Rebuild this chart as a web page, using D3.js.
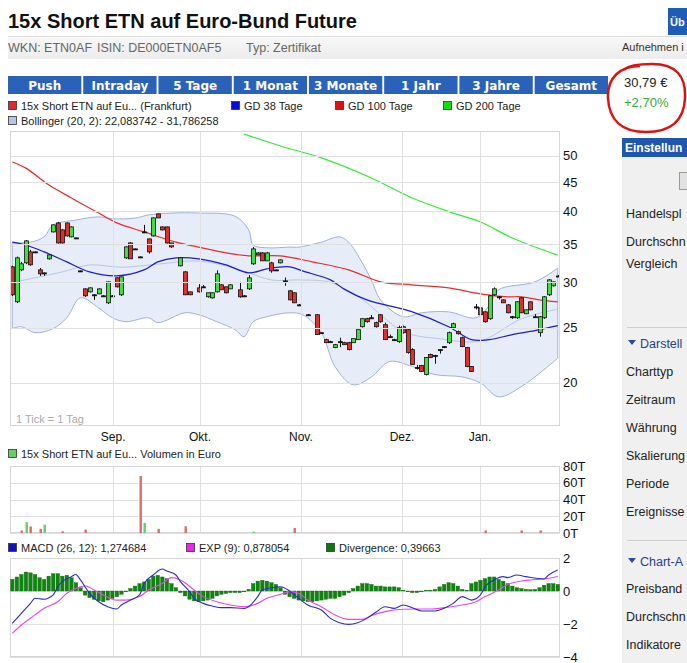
<!DOCTYPE html>
<html>
<head>
<meta charset="utf-8">
<script src="https://cdn.jsdelivr.net/npm/d3@7"></script>
<style>
  body { margin: 0; background: #fff; }
  svg { display: block; font-family: Arial, "Liberation Sans", sans-serif; }
</style>
</head>
<body>
<svg id="page" width="687" height="663"></svg>
<script>
// ---- data ----
// candles: [day, open, high, low, close]
const candles = [
  [0, 31.95, 32.1, 28.4, 28.54], [1, 27.74, 33.3, 27.6, 33.13], [2, 31.56, 32.6, 31.4, 32.34],
  [3, 32.47, 35.6, 32.3, 35.48], [4, 33.94, 34.22, 32.1, 32.21], [5, 33.94, 34.0, 33.9, 33.94],
  [6, 31.56, 31.8, 30.8, 31.06], [7, 31.18, 31.2, 30.8, 31.18], [8, 33.0, 33.6, 32.9, 33.53],
  [9, 36.79, 37.9, 36.7, 37.85], [10, 38.15, 38.3, 35.1, 35.19], [11, 37.09, 37.2, 35.1, 35.19],
  [12, 38.15, 38.2, 36.1, 36.2], [13, 36.06, 37.6, 36.0, 37.54], [14, 35.91, 35.95, 35.85, 35.91],
  [15, 31.43, 31.5, 31.4, 31.43], [16, 29.23, 29.3, 28.3, 28.42], [17, 28.88, 29.4, 28.8, 29.35],
  [18, 28.54, 28.6, 27.96, 28.54], [19, 28.65, 29.3, 28.6, 29.23], [20, 28.42, 28.5, 28.4, 28.42],
  [21, 27.63, 30.1, 27.5, 30.07], [22, 28.42, 28.5, 28.4, 28.42], [23, 30.56, 30.6, 29.4, 29.47],
  [24, 28.54, 30.7, 28.4, 30.68], [25, 33.13, 34.7, 33.0, 34.63], [26, 35.19, 35.3, 33.0, 33.0],
  [27, 34.35, 34.4, 34.3, 34.35], [28, 33.26, 33.3, 33.2, 33.26], [29, 36.79, 37.85, 36.7, 36.79],
  [30, 35.77, 35.8, 33.7, 33.94], [31, 36.2, 39.0, 36.1, 38.93], [32, 39.57, 39.6, 38.9, 38.93],
  [33, 37.54, 37.6, 37.0, 37.09], [34, 37.54, 37.6, 35.1, 35.19], [35, 35.19, 35.2, 34.5, 34.63],
  [37, 32.08, 33.2, 32.0, 33.13], [38, 31.31, 31.4, 28.5, 28.54], [39, 28.88, 28.9, 28.5, 28.54],
  [41, 29.35, 29.8, 28.8, 28.88], [42, 29.47, 29.7, 29.4, 29.47], [43, 28.31, 28.8, 28.2, 28.77],
  [44, 28.19, 28.8, 28.1, 28.77], [45, 28.88, 31.5, 28.8, 31.06], [46, 29.71, 29.8, 29.1, 29.12],
  [47, 29.47, 29.5, 28.7, 28.77], [48, 29.23, 29.8, 29.2, 29.71], [50, 29.12, 30.07, 28.2, 28.31],
  [51, 28.42, 28.5, 28.4, 28.42], [52, 29.23, 30.9, 29.1, 30.56], [53, 32.34, 34.6, 32.2, 34.35],
  [54, 33.8, 33.9, 33.5, 33.53], [55, 33.8, 33.9, 32.7, 32.73], [56, 32.73, 33.9, 32.7, 33.8],
  [57, 32.47, 32.6, 31.2, 31.43], [58, 31.56, 31.6, 31.5, 31.56], [59, 32.47, 32.9, 32.4, 32.86],
  [60, 30.19, 30.6, 29.6, 30.19], [61, 29.0, 29.1, 27.9, 27.96], [62, 28.77, 28.8, 27.6, 27.63],
  [63, 27.4, 27.5, 27.3, 27.4], [65, 26.33, 26.4, 26.3, 26.33], [67, 26.33, 26.4, 24.3, 24.3],
  [68, 24.49, 24.5, 24.4, 24.49], [69, 23.81, 23.9, 23.5, 23.52], [70, 23.62, 23.7, 23.5, 23.62],
  [71, 23.06, 23.4, 23.0, 23.33], [72, 23.62, 24.0, 23.1, 23.62], [73, 23.52, 23.6, 23.3, 23.33],
  [74, 23.52, 23.6, 22.8, 22.87], [75, 23.52, 23.9, 23.5, 23.91], [76, 23.81, 24.8, 23.8, 24.79],
  [77, 25.09, 25.95, 25.0, 25.91], [78, 25.91, 26.0, 25.5, 25.6], [79, 26.01, 26.3, 25.9, 26.01],
  [80, 25.5, 25.6, 25.0, 25.09], [81, 26.33, 26.4, 25.5, 25.6], [82, 25.29, 25.5, 23.8, 23.81],
  [83, 24.1, 24.3, 24.0, 24.1], [84, 23.81, 23.9, 23.7, 23.81], [85, 23.62, 25.2, 23.5, 24.99],
  [86, 25.09, 25.2, 24.4, 24.49], [87, 24.79, 24.9, 22.5, 22.6], [88, 22.87, 23.0, 21.5, 21.53],
  [89, 21.28, 21.5, 21.1, 21.28], [90, 21.45, 21.5, 20.9, 20.93], [91, 20.68, 22.2, 20.6, 22.15],
  [92, 22.42, 22.5, 22.1, 22.15], [93, 22.33, 22.4, 21.6, 22.33], [94, 22.87, 22.9, 22.5, 22.87],
  [95, 23.15, 23.2, 23.0, 23.15], [96, 23.52, 24.6, 23.4, 24.49], [97, 24.99, 25.5, 24.9, 25.39],
  [98, 24.59, 24.7, 24.3, 24.39], [99, 24.0, 24.1, 23.1, 23.15], [100, 23.06, 23.1, 21.3, 21.36],
  [101, 21.36, 21.4, 20.9, 20.93], [102, 27.18, 27.5, 26.9, 27.18], [103, 27.07, 27.2, 26.3, 26.33],
  [104, 26.64, 26.7, 25.5, 25.6], [105, 25.91, 28.5, 25.8, 28.42], [106, 28.54, 29.4, 28.4, 29.23],
  [107, 28.31, 28.4, 28.0, 28.31], [108, 27.96, 28.0, 27.6, 27.63], [109, 27.4, 27.5, 26.5, 26.54],
  [110, 26.12, 26.2, 25.9, 26.12], [111, 26.01, 27.8, 25.9, 27.74], [112, 28.19, 28.3, 26.5, 26.54],
  [113, 26.43, 26.9, 26.4, 26.86], [114, 27.74, 27.8, 26.8, 26.86], [115, 26.12, 26.4, 26.0, 26.12],
  [116, 24.49, 26.2, 24.1, 26.12], [117, 26.01, 28.4, 25.9, 28.31], [118, 28.54, 30.4, 28.4, 30.31],
  [119, 29.59, 30.1, 29.5, 30.07], [120, 30.79, 30.9, 30.7, 30.79]
];

// moving averages / bollinger: [day, value]
const gd38 = [[0, 35.3], [3, 34.9], [7, 33.94], [12, 32.6], [17, 31.31], [23, 30.81], [29, 31.56], [32, 32.6],
  [36, 33.13], [41, 33.0], [47, 32.21], [52, 31.18], [56, 31.69], [61, 31.95], [64, 31.4], [70, 30.31],
  [73, 29.2], [78, 27.96], [88, 26.64], [96, 25.09], [101, 23.81], [105, 23.81], [110, 24.3], [115, 24.69], [120, 25.19]];
const gd100 = [[0, 48.8], [3, 47.6], [8, 44.5], [13, 42.2], [19, 39.7], [23, 38.15], [29, 36.8], [36, 35.3],
  [41, 34.6], [47, 33.8], [52, 33.4], [59, 33.4], [66, 32.6], [74, 31.56], [81, 30.07], [88, 29.71],
  [96, 29.35], [103, 28.65], [109, 28.31], [112, 28.31], [116, 27.96], [120, 27.74]];
const gd200 = [[51, 54.6], [59, 52.06], [68, 49.6], [79, 45.75], [88, 42.2], [97, 39.7], [103, 38.3],
  [110, 35.9], [120, 33.5]];
const bollUpper = [[0, 35.2], [4, 35.3], [7, 36.06], [9, 37.85], [14, 38.6], [19, 39.1], [22, 38.8], [27, 38.9],
  [30, 39.4], [35, 39.7], [41, 39.7], [49, 39.2], [52, 37.1], [53, 34.9], [56, 34.5], [61, 34.6], [63, 34.6],
  [68, 35.3], [72, 36.06], [74, 35.3], [77, 32.47], [79, 30.31], [81, 27.96], [86, 26.12], [90, 26.54],
  [96, 26.64], [102, 26.01], [105, 27.4], [107, 29.12], [115, 30.07], [120, 31.79]];
const bollMid = [[0, 30.0], [11, 31.3], [17, 32.2], [24, 31.9], [32, 32.3], [41, 32.7], [50, 31.6], [57, 30.3],
  [63, 30.3], [70, 30.0], [77, 28.0], [86, 24.6], [94, 23.9], [103, 23.7], [112, 25.9], [120, 26.93]];
const bollLower = [[0, 24.9], [2, 25.09], [5, 24.49], [9, 24.9], [12, 26.01], [15, 28.19], [19, 27.07], [22, 26.01],
  [25, 25.6], [30, 26.01], [32, 25.5], [38, 26.54], [41, 26.33], [45, 25.6], [49, 24.79], [51, 24.1], [53, 25.6],
  [56, 26.12], [61, 26.54], [64, 26.3], [68, 24.49], [71, 21.36], [75, 19.84], [79, 20.48], [83, 21.8],
  [88, 21.36], [93, 20.68], [99, 20.48], [103, 19.99], [107, 18.9], [112, 19.7], [117, 21.1], [120, 22.08]];

// volume: [day, euro, rising?]
const volumes = [[2, 3000, false], [3, 13000, true], [4, 7700, false], [6, 5000, false], [7, 10000, true],
  [11, 2000, false], [16, 4000, false], [28, 68000, false], [29, 12000, true], [32, 5000, false],
  [38, 8000, false], [53, 1500, true], [62, 6000, false], [104, 3000, false], [112, 3000, false], [116, 3000, false]];

// MACD panel
const macdLine = [[0, -1.96], [2, -1.35], [4, -0.75], [5, -0.44], [7, -0.5], [9, -0.24], [10, 0.26], [11, 0.57],
  [13, 0.87], [14, 1.0], [15, 0.67], [17, -0.14], [19, -0.65], [21, -0.95], [23, -1.09], [24, -0.85], [26, -0.55],
  [28, -0.24], [29, 0.46], [31, 0.97], [33, 1.33], [34, 1.21], [36, 0.97], [37, 0.57], [39, -0.04], [40, -0.44],
  [42, -0.75], [44, -0.91], [46, -1.01], [48, -1.01], [51, -1.05], [52, -0.95], [54, -0.34], [55, 0.06], [57, 0.2],
  [59, 0.26], [61, 0.0], [63, -0.44], [65, -0.85], [68, -1.15], [70, -1.66], [72, -1.92], [74, -2.02], [76, -1.92],
  [78, -1.66], [80, -1.29], [82, -0.95], [84, -1.05], [86, -0.85], [88, -1.01], [90, -1.21], [93, -1.21],
  [95, -1.05], [97, -0.75], [99, -0.34], [101, -0.55], [103, -0.24], [104, 0.26], [106, 0.67], [108, 0.87],
  [109, 0.81], [111, 0.97], [113, 0.87], [117, 0.73], [118, 0.97], [120, 1.27]];
const expLine = [[0, -2.57], [2, -2.06], [5, -1.45], [7, -1.05], [10, -0.65], [12, -0.14], [15, 0.26], [16, 0.32],
  [18, 0.06], [20, -0.24], [23, -0.55], [25, -0.55], [28, -0.34], [30, 0.06], [33, 0.46], [35, 0.81], [37, 0.67],
  [40, 0.06], [42, -0.34], [45, -0.65], [48, -0.85], [51, -0.95], [54, -0.75], [56, -0.44], [59, -0.2], [61, -0.04],
  [63, -0.14], [65, -0.55], [68, -0.95], [71, -1.45], [74, -1.72], [77, -1.72], [79, -1.49], [82, -1.25],
  [86, -1.11], [89, -1.09], [92, -1.09], [95, -1.01], [99, -0.85], [102, -0.65], [104, -0.34], [107, 0.06],
  [109, 0.4], [112, 0.61], [114, 0.67], [117, 0.73], [119, 0.82], [120, 0.88]];
const divergence = [
  0.7, 0.85, 1.0, 1.15, 1.1, 1.0, 0.8, 0.7, 0.9, 1.05,
  1.05, 0.9, 0.95, 0.8, 0.5, 0.2, -0.25, -0.4, -0.5, -0.6,
  -0.65, -0.55, -0.45, -0.35, -0.2, -0.05, 0.15, 0.3, 0.45, 0.55,
  0.7, 0.9, 0.95, 0.85, 0.75, 0.45, 0.2, -0.1, -0.3, -0.5,
  -0.6, -0.65, -0.6, -0.55, -0.45, -0.3, -0.2, -0.15, -0.1, -0.1,
  -0.1, -0.05, 0.1, 0.45, 0.6, 0.65, 0.6, 0.5, 0.4, 0.2,
  -0.2, -0.35, -0.45, -0.55, -0.6, -0.65, -0.65, -0.6, -0.55, -0.5,
  -0.45, -0.45, -0.35, -0.25, -0.1, 0.15, 0.3, 0.45, 0.45, 0.4,
  0.3, 0.3, 0.25, 0.25, 0.25, 0.2, 0.05, -0.05, -0.1, -0.1,
  -0.05, 0.05, 0.05, 0.1, 0.25, 0.4, 0.5, 0.45, 0.3, 0.1,
  0.05, 0.45, 0.55, 0.65, 0.75, 0.85, 0.85, 0.7, 0.6, 0.45,
  0.3, 0.2, 0.15, 0.1, 0.08, 0.1, 0.2, 0.35, 0.45, 0.45, 0.4];

// ticks and labels
const dayCount = 121;
const priceTicks = [20, 25, 30, 35, 40, 45, 50];
const monthTicks = [["Sep.", 22.7], ["Okt.", 41.8], ["Nov.", 64.0], ["Dez.", 86.25], ["Jan.", 103.4]];
const volumeTicks = [0, 20000, 40000, 60000, 80000];
const macdTicks = [2, 0, -2, -4];
const buttons = ["Push", "Intraday", "5 Tage", "1 Monat", "3 Monate", "1 Jahr", "3 Jahre", "Gesamt"];
// side panel labels, as far as they show before the window edge
const settingsItems = ["Handelspl", "Durchschn", "Vergleich"];
const displayItems = ["Charttyp", "Zeitraum", "Währung", "Skalierung", "Periode", "Ereignisse"];
const analysisItems = ["Preisband", "Durchschn", "Indikatore"];

const svg = d3.select("#page");
const defs = svg.append("defs");

// ---- page header ----
svg.append("text").attr("x", 8).attr("y", 28)
  .attr("font-size", 20).attr("font-weight", "bold").attr("fill", "#111")
  .text("15x Short ETN auf Euro-Bund Future");
svg.append("rect").attr("x", 668).attr("y", 8).attr("width", 19).attr("height", 27).attr("fill", "#1f5cb8");
svg.append("text").attr("x", 670).attr("y", 26).attr("font-size", 11).attr("font-weight", "bold")
  .attr("fill", "#fff").text("Üb");

const subGrad = defs.append("linearGradient").attr("id", "subGrad").attr("x1", 0).attr("x2", 0).attr("y1", 0).attr("y2", 1);
subGrad.append("stop").attr("offset", "0%").attr("stop-color", "#f8f8f8");
subGrad.append("stop").attr("offset", "100%").attr("stop-color", "#ececec");
svg.append("rect").attr("x", 8).attr("y", 37).attr("width", 679).attr("height", 22).attr("fill", "url(#subGrad)");
svg.append("line").attr("x1", 8).attr("x2", 687).attr("y1", 36.5).attr("y2", 36.5).attr("stroke", "#dedede");

const sub = svg.append("g").attr("font-size", 12.5).attr("fill", "#666");
sub.append("text").attr("x", 8).attr("y", 52).text("WKN: ETN0AF");
sub.append("text").attr("x", 97).attr("y", 52).text("ISIN: DE000ETN0AF5");
sub.append("text").attr("x", 246).attr("y", 52).text("Typ: Zertifikat");
svg.append("text").attr("x", 622).attr("y", 51).attr("font-size", 11).attr("fill", "#333").text("Aufnehmen i");

// ---- period buttons ----
const btnScale = d3.scaleBand().domain(buttons).range([8, 608]).paddingInner(0.025);
const btn = svg.append("g").selectAll("g").data(buttons).join("g");
btn.append("rect").attr("x", d => btnScale(d)).attr("y", 76).attr("width", btnScale.bandwidth())
  .attr("height", 18).attr("fill", "#2a62ba");
btn.append("text").attr("x", d => btnScale(d) + btnScale.bandwidth() / 2).attr("y", 89.5)
  .attr("text-anchor", "middle").attr("font-size", 12).attr("font-weight", "bold")
  .attr("font-family", "Verdana, 'DejaVu Sans', sans-serif").attr("fill", "#fff").text(d => d);

// ---- price box with red marker circle ----
svg.append("text").attr("x", 624).attr("y", 87).attr("font-size", 13).attr("fill", "#222").text("30,79 €");
svg.append("text").attr("x", 624).attr("y", 107).attr("font-size", 13).attr("fill", "#3aaa3a").text("+2,70%");
svg.append("path")
  .attr("d", "M640,66 C620,66 607,78 608,98 C609,120 622,132 646,132 C670,132 684,122 685,98 C686,76 676,64 652,64 C640,64 628,66 624,70")
  .attr("fill", "none").attr("stroke", "#e01010").attr("stroke-width", 2.5);

// ---- right settings panel ----
svg.append("rect").attr("x", 622).attr("y", 138).attr("width", 65).attr("height", 525).attr("fill", "#f0f0f0");
svg.append("rect").attr("x", 622).attr("y", 138).attr("width", 65).attr("height", 19).attr("fill", "#1e56b0");
svg.append("text").attr("x", 625).attr("y", 152).attr("font-size", 12).attr("font-weight", "bold")
  .attr("fill", "#fff").text("Einstellun");
svg.append("rect").attr("x", 679.5).attr("y", 172.5).attr("width", 14).attr("height", 17)
  .attr("fill", "#e2e2e2").attr("stroke", "#9a9a9a");
const side = svg.append("g").attr("font-size", 12.5).attr("fill", "#222");
settingsItems.forEach((t, i) => side.append("text").attr("x", 626).attr("y", [218, 246, 268][i]).text(t));
[327.5, 540.5].forEach(y => svg.append("line").attr("x1", 627).attr("x2", 687).attr("y1", y).attr("y2", y).attr("stroke", "#cfcfcf"));
[["Darstell", 343], ["Chart-A", 561]].forEach(([t, y]) => {
  svg.append("path").attr("d", `M628,${y - 3}L636,${y - 3}L632,${y + 2}Z`).attr("fill", "#2a4a9a");
  svg.append("text").attr("x", 640).attr("y", y + 4.5).attr("font-size", 12.5).attr("fill", "#27408b").text(t);
});
displayItems.forEach((t, i) => side.append("text").attr("x", 626).attr("y", 376 + i * 28).text(t));
analysisItems.forEach((t, i) => side.append("text").attr("x", 626).attr("y", 593 + i * 28).text(t));

// ---- legends ----
function legendItem(x, y, color, label) {
  svg.append("rect").attr("x", x + 0.5).attr("y", y - 8.5).attr("width", 8).attr("height", 8)
    .attr("fill", color).attr("stroke", "#333").attr("stroke-width", 0.8);
  svg.append("text").attr("x", x + 13).attr("y", y).attr("font-size", 11).attr("fill", "#222").text(label);
}
legendItem(8, 110, "#e02a2a", "15x Short ETN auf Eu... (Frankfurt)");
legendItem(231, 110, "#0a0adf", "GD 38 Tage");
legendItem(335, 110, "#e01010", "GD 100 Tage");
legendItem(443, 110, "#11dd11", "GD 200 Tage");
legendItem(8, 125, "#b4c4e4", "Bollinger (20, 2): 22,083742 - 31,786258");
legendItem(8, 458, "#66cc66", "15x Short ETN auf Eu... Volumen in Euro");
legendItem(8, 552, "#1010c8", "MACD (26, 12): 1,274684");
legendItem(186, 552, "#ee22ee", "EXP (9): 0,878054");
legendItem(326, 552, "#0a7a0a", "Divergence: 0,39663");

// ---- shared x scale (trading days) ----
const x = d3.scaleLinear().domain([0, dayCount]).range([10, 560]);
const cx = d => x(d + 0.5);

function panelFrame(top, bottom, yScale, ticks, fmt) {
  const g = svg.append("g");
  g.selectAll(".hg").data(ticks).join("line")
    .attr("x1", 10).attr("x2", 560)
    .attr("y1", d => Math.round(yScale(d)) + 0.5).attr("y2", d => Math.round(yScale(d)) + 0.5)
    .attr("stroke", "#e0e0e0");
  g.selectAll(".vg").data(monthTicks).join("line")
    .attr("x1", d => Math.round(x(d[1])) + 0.5).attr("x2", d => Math.round(x(d[1])) + 0.5)
    .attr("y1", top).attr("y2", bottom).attr("stroke", "#e0e0e0");
  g.append("rect").attr("x", 10.5).attr("y", top + 0.5).attr("width", 549).attr("height", bottom - top - 1)
    .attr("fill", "none").attr("stroke", "#d6d6d6");
  svg.append("g").selectAll("text").data(ticks).join("text")
    .attr("x", 563).attr("y", d => yScale(d) + 4.5).attr("font-size", 13).attr("fill", "#111").text(fmt);
  return g;
}

// ---- main price panel ----
const y = d3.scaleLog().domain([16.8, 55.3]).range([426, 131]);
defs.append("clipPath").attr("id", "mainClip").append("rect").attr("x", 10).attr("y", 131).attr("width", 550).attr("height", 295);
const main = svg.append("g").attr("clip-path", "url(#mainClip)");

const smooth = d3.line().x(d => cx(d[0])).y(d => y(d[1])).curve(d3.curveCatmullRom.alpha(0.5));
const bandPath = smooth(bollUpper) + "L" + smooth(bollLower.slice().reverse()).slice(1) + "Z";
main.append("path").attr("d", bandPath).attr("fill", "#e6edf9").attr("stroke", "#9fb2d8").attr("stroke-width", 1);

panelFrame(131, 426, y, priceTicks, d => d);

main.append("path").attr("d", smooth(bollMid)).attr("fill", "none").attr("stroke", "#b7c6e4").attr("stroke-width", 1);
main.append("path").attr("d", smooth(gd200)).attr("fill", "none").attr("stroke", "#33ee33").attr("stroke-width", 1.2);
main.append("path").attr("d", smooth(gd100)).attr("fill", "none").attr("stroke", "#ee2a2a").attr("stroke-width", 1.2);
main.append("path").attr("d", smooth(gd38)).attr("fill", "none").attr("stroke", "#1c1cd0").attr("stroke-width", 1.2);

const candle = main.append("g").selectAll("g").data(candles).join("g");
candle.append("line")
  .attr("x1", d => Math.round(cx(d[0])) + 0.5).attr("x2", d => Math.round(cx(d[0])) + 0.5)
  .attr("y1", d => y(d[2])).attr("y2", d => y(d[3])).attr("stroke", "#111");
candle.append("rect")
  .attr("x", d => Math.round(cx(d[0])) - 1.5).attr("width", 4)
  .attr("y", d => y(Math.max(d[1], d[4])))
  .attr("height", d => Math.max(1, y(Math.min(d[1], d[4])) - y(Math.max(d[1], d[4]))))
  .attr("fill", d => d[4] > d[1] ? "#3ee03e" : d[4] < d[1] ? "#e0302e" : "#111")
  .attr("stroke", "#111").attr("stroke-width", 0.8);

svg.append("text").attr("x", 16).attr("y", 423).attr("font-size", 11).attr("fill", "#aaa").text("1 Tick = 1 Tag");
svg.append("g").selectAll("text").data(monthTicks).join("text")
  .attr("x", d => x(d[1])).attr("y", 441).attr("text-anchor", "middle").attr("font-size", 12).attr("fill", "#111")
  .text(d => d[0]);

// ---- volume panel ----
const yv = d3.scaleLinear().domain([0, 80000]).range([533, 466]);
panelFrame(466, 533, yv, volumeTicks, d => (d / 1000) + "T");
svg.append("g").selectAll("rect").data(volumes).join("rect")
  .attr("x", d => Math.round(cx(d[0])) - 0.5).attr("width", 2.4)
  .attr("y", d => yv(d[1])).attr("height", d => yv(0) - yv(d[1]))
  .attr("fill", d => d[2] ? "#6acd6a" : "#e06a6a");

// ---- MACD panel ----
const ym = d3.scaleLinear().domain([-4, 2]).range([657, 558]);
panelFrame(558, 657, ym, macdTicks, d => d < 0 ? "−" + Math.abs(d) : d);
svg.append("g").selectAll("rect").data(divergence).join("rect")
  .attr("x", (d, i) => cx(i) - 1.7).attr("width", 3.5)
  .attr("y", d => ym(Math.max(0, d))).attr("height", d => Math.abs(ym(d) - ym(0)))
  .attr("fill", "#0f850f").attr("stroke", "#0a6a0a").attr("stroke-width", 0.4);
const macdGen = d3.line().x(d => cx(d[0])).y(d => ym(d[1])).curve(d3.curveMonotoneX);
svg.append("path").attr("d", macdGen(expLine)).attr("fill", "none").attr("stroke", "#ee44ee").attr("stroke-width", 1.1);
svg.append("path").attr("d", macdGen(macdLine)).attr("fill", "none").attr("stroke", "#2a2ad0").attr("stroke-width", 1.1);
</script>
</body>
</html>
